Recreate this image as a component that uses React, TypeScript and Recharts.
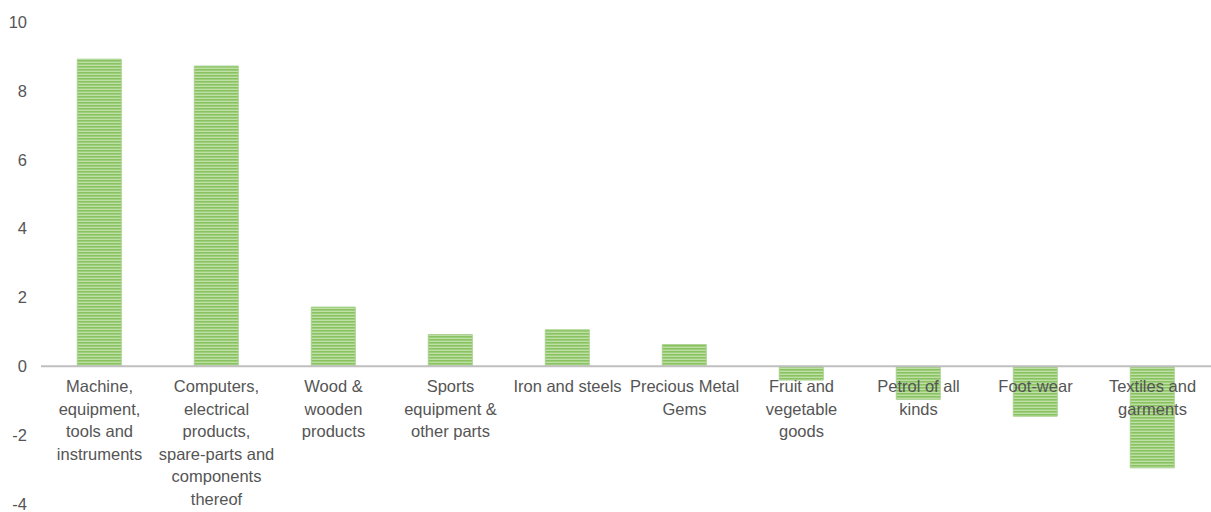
import { ComposedChart, Bar, Line, XAxis, YAxis, ReferenceLine, LabelList } from "recharts"

const categories = [
  "Machine, equipment, tools and instruments",
  "Computers, electrical products, spare-parts and components thereof",
  "Wood & wooden products",
  "Sports equipment & other parts",
  "Iron and steels",
  "Precious Metal Gems",
  "Fruit and vegetable goods",
  "Petrol of all kinds",
  "Foot-wear",
  "Textiles and garments",
]

// wrapped label lines, as in the picture
const labelLines = [
  ["Machine,", "equipment,", "tools and", "instruments"],
  ["Computers,", "electrical", "products,", "spare-parts and", "components", "thereof"],
  ["Wood &", "wooden", "products"],
  ["Sports", "equipment &", "other parts"],
  ["Iron and steels"],
  ["Precious Metal", "Gems"],
  ["Fruit and", "vegetable", "goods"],
  ["Petrol of all", "kinds"],
  ["Foot-wear"],
  ["Textiles and", "garments"],
]

const values = [8.92, 8.72, 1.72, 0.92, 1.06, 0.63, -0.4, -0.96, -1.45, -2.95]

const yTicks = [-4, -2, 0, 2, 4, 6, 8, 10]

const data = categories.map((name, i) => ({ name, value: values[i], zero: 0, idx: i }))

const FONT = "'Liberation Sans', Arial, sans-serif"

const CategoryLabel = (props: any) => {
  const { x, y, index } = props
  const lines = labelLines[index] || []
  return (
    <text x={x} y={y + 26} textAnchor="middle" fill="#555" fontSize={16.5} fontFamily={FONT}>
      {lines.map((l, k) => (
        <tspan key={k} x={x} dy={k === 0 ? 0 : 22.5}>
          {l}
        </tspan>
      ))}
    </text>
  )
}

export default function App() {
  return (
    <div style={{ position: "absolute", left: 0, top: 0, background: "#fff" }}>
      <ComposedChart
        width={1211}
        height={512}
        data={data}
        margin={{ top: 22, right: 0, bottom: 8, left: 0 }}
        barCategoryGap="31%"
      >
        <defs>
          <pattern id="stripes" width="6" height="3" patternUnits="userSpaceOnUse">
            <rect x="0" y="0" width="6" height="3" fill="#b7dc9c" />
            <rect x="0" y="0" width="6" height="1.6" fill="#7cbd50" />
          </pattern>
        </defs>
        <XAxis dataKey="name" hide />
        <YAxis
          domain={[-4, 10]}
          ticks={yTicks}
          width={41}
          axisLine={false}
          tickLine={false}
          tickMargin={8}
          tick={{ fill: "#555", fontSize: 16.5, fontFamily: FONT }}
          interval={0}
        />
        <ReferenceLine y={0} stroke="#bfbfbf" strokeWidth={2} />
        <Line dataKey="zero" stroke="none" dot={false} activeDot={false} isAnimationActive={false}>
          <LabelList dataKey="idx" content={CategoryLabel} />
        </Line>
        <Bar
          dataKey="value"
          fill="url(#stripes)"
          fillOpacity={0.9}
          stroke="#a9d18e"
          strokeWidth={1}
          isAnimationActive={false}
        />
      </ComposedChart>
    </div>
  )
}
